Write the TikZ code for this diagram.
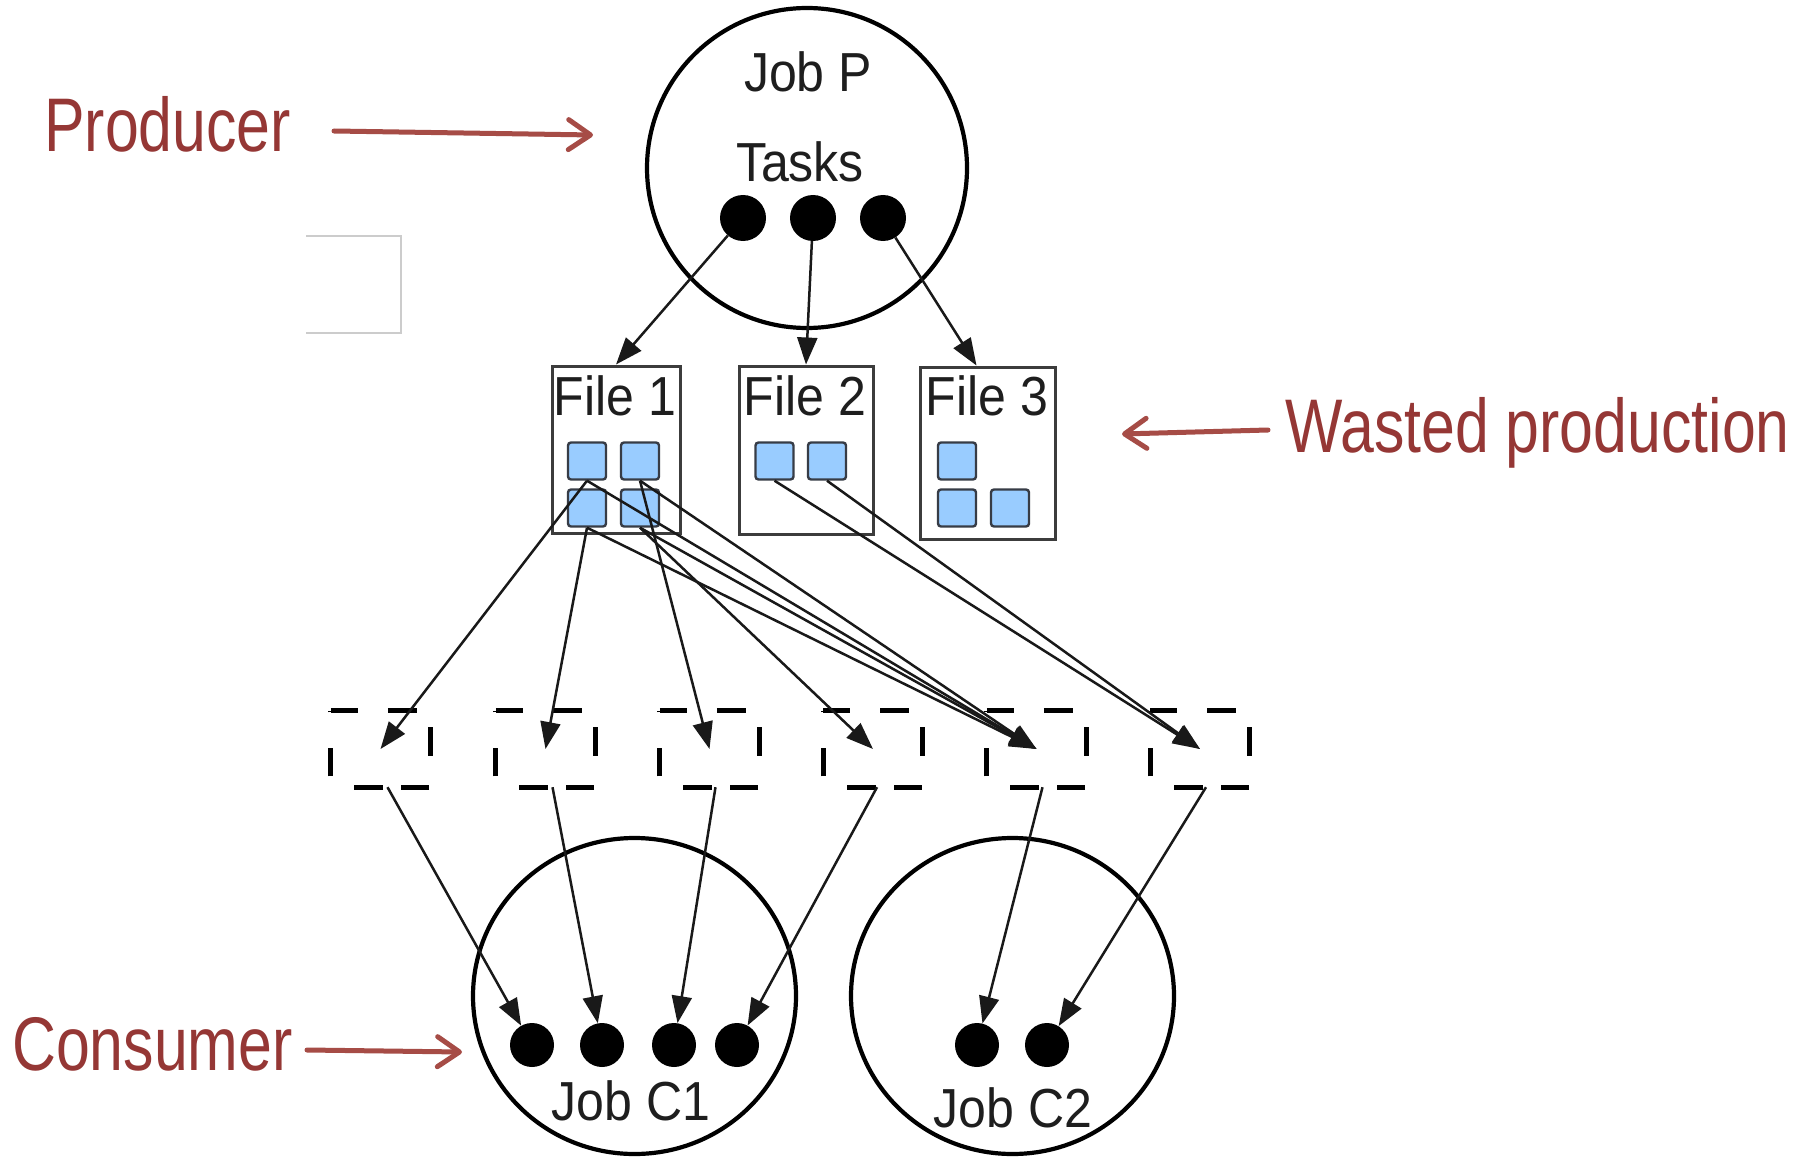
\documentclass[tikz,border=0pt]{standalone}
\usepackage{fontspec}
\usetikzlibrary{arrows.meta,shapes.geometric}
\newfontfamily\diagfont[FakeStretch=0.91]{Liberation Sans}
\newfontfamily\notefont[FakeStretch=0.80]{Liberation Sans}
\definecolor{notered}{RGB}{149,55,53}
\definecolor{arrowred}{RGB}{166,76,70}
\definecolor{chunkblue}{RGB}{153,204,255}
\definecolor{chunkedge}{RGB}{55,60,70}
\definecolor{fileedge}{RGB}{60,60,60}
\definecolor{textdark}{RGB}{30,30,30}
\definecolor{ghost}{RGB}{204,204,204}
\tikzset{
  jobcircle/.style={circle, draw=black, line width=4.2pt, inner sep=0pt, minimum size=320pt},
  jobellipse/.style={ellipse, draw=black, line width=4.2pt, inner sep=0pt, minimum width=323pt, minimum height=316pt},
  taskdot/.style={circle, fill=black, inner sep=0pt, minimum size=46pt},
  workdot/.style={circle, fill=black, inner sep=0pt, minimum size=44pt},
  filebox/.style={rectangle, draw=fileedge, line width=3pt, inner sep=0pt},
  chunk/.style={rectangle, rounded corners=3pt, fill=chunkblue, draw=chunkedge, line width=2.4pt,
                minimum width=38pt, minimum height=37pt, inner sep=0pt},
  slot/.style={rectangle, inner sep=0pt, minimum width=99pt, minimum height=76pt},
  slotedge/.style={draw=black, line width=4.8pt,
    dash pattern=on 27pt off 30pt on 29pt off 30pt on 29pt off 32pt on 28pt off 18pt on 29pt off 34pt on 28pt off 36pt},
  flow/.style={draw=black!90, line width=2.5pt, -{Triangle[length=27pt,width=20pt]}},
  difftext/.style={font=\diagfont\fontsize{55}{60}\selectfont, text=textdark, inner sep=0pt, anchor=base},
  note/.style={font=\notefont\fontsize{76}{80}\selectfont, text=notered, inner sep=0pt, anchor=base west},
  notearrow/.style={draw=arrowred, line width=5pt, line cap=round,
                    -{Straight Barb[length=22pt,width=30pt,round]}},
}
\begin{document}
\begin{tikzpicture}[x=1pt,y=-1pt]
\fill[white] (0,0) rectangle (1806,1161);
\useasboundingbox (0,0) rectangle (1806,1161);

% stray open frame at the left
\draw[ghost, line width=1.6pt] (306,236) -- (401,236) -- (401,333) -- (306,333);

% producer job with its three tasks
\node[jobcircle] (jobP) at (807,168) {};
\node[difftext] (jobPlabel) at (808,92) {Job P};
\node[difftext] (tasksLabel) at (800,182) {Tasks};
\node[taskdot] (t1) at (743,218) {};
\node[taskdot] (t2) at (813,218) {};
\node[taskdot] (t3) at (883,218) {};

% output files
\node[filebox, minimum width=128pt, minimum height=167pt] (f1) at (616,449.5) {};
\node[filebox, minimum width=134pt, minimum height=168pt] (f2) at (806,450) {};
\node[filebox, minimum width=135pt, minimum height=172pt] (f3) at (987.5,453) {};
\node[difftext] (f1label) at (615,415) {File 1};
\node[difftext] (f2label) at (805,415) {File 2};
\node[difftext] (f3label) at (987,415) {File 3};

% file blocks
\node[chunk] (aTL) at (587,461) {};
\node[chunk] (aTR) at (640,461) {};
\node[chunk] (aBL) at (587,508) {};
\node[chunk] (aBR) at (640,508) {};
\node[chunk] (bL) at (774.5,461) {};
\node[chunk] (bR) at (827,461) {};
\node[chunk] (cT) at (957,461) {};
\node[chunk] (cBL) at (957,508) {};
\node[chunk] (cBR) at (1010,508) {};

% task -> file
\draw[flow] (t1) -- (f1.north);
\draw[flow] (t2) -- (f2.north);
\draw[flow] (t3) -- ([xshift=-11pt]f3.north);

% input slots of the consumers
\node[slot] (d1) at (380.5,749) {};
\node[slot] (d2) at (545.5,749) {};
\node[slot] (d3) at (709.5,749) {};
\node[slot] (d4) at (873,749) {};
\node[slot] (d5) at (1036.5,749) {};
\node[slot] (d6) at (1200,749) {};
\foreach \i in {1,...,6}
  \draw[slotedge] (d\i.north west) -- (d\i.north east) -- (d\i.south east) -- (d\i.south west) -- cycle;

% blocks -> slots
\draw[flow] (aTL.south) -- (d1.center);
\draw[flow] (aTL.south) -- (d5.center);
\draw[flow] (aTR.south) -- (d3.center);
\draw[flow] (aTR.south) -- (d5.center);
\draw[flow] (aBL.south) -- (d2.center);
\draw[flow] (aBL.south) -- (d5.center);
\draw[flow] (aBR.south) -- (d4.center);
\draw[flow] (aBR.south) -- (d5.center);
\draw[flow] (bL.south) -- (d6.center);
\draw[flow] (bR.south) -- (d6.center);

% consumer jobs
\node[jobellipse] (jobC1) at (634.5,996) {};
\node[jobellipse] (jobC2) at (1012.5,996) {};
\node[workdot] (u1) at (532,1045) {};
\node[workdot] (u2) at (602,1045) {};
\node[workdot] (u3) at (674,1045) {};
\node[workdot] (u4) at (737,1045) {};
\node[workdot] (v1) at (977,1045) {};
\node[workdot] (v2) at (1047,1045) {};
\node[difftext] (c1label) at (631,1120) {Job C1};
\node[difftext] (c2label) at (1013,1127) {Job C2};

% slots -> consumer tasks
\draw[flow] ([xshift=7pt]d1.south) -- (u1);
\draw[flow] ([xshift=7pt]d2.south) -- (u2);
\draw[flow] ([xshift=6pt]d3.south) -- (u3);
\draw[flow] ([xshift=4pt]d4.south) -- (u4);
\draw[flow] ([xshift=6pt]d5.south) -- (v1);
\draw[flow] ([xshift=6pt]d6.south) -- (v2);

% annotations
\node[note] (producer) at (44,152) {Producer};
\node[note] (wasted) at (1285,452) {Wasted production};
\node[note] (consumer) at (12,1070) {Consumer};
\coordinate (prodTail) at (334,131);
\coordinate (prodTip) at (593,135);
\coordinate (wasteTail) at (1268,430);
\coordinate (wasteTip) at (1122,434);
\coordinate (consTail) at (307,1050);
\coordinate (consTip) at (462,1052);
\draw[notearrow] (prodTail) -- (prodTip);
\draw[notearrow] (wasteTail) -- (wasteTip);
\draw[notearrow] (consTail) -- (consTip);
\end{tikzpicture}
\end{document}
